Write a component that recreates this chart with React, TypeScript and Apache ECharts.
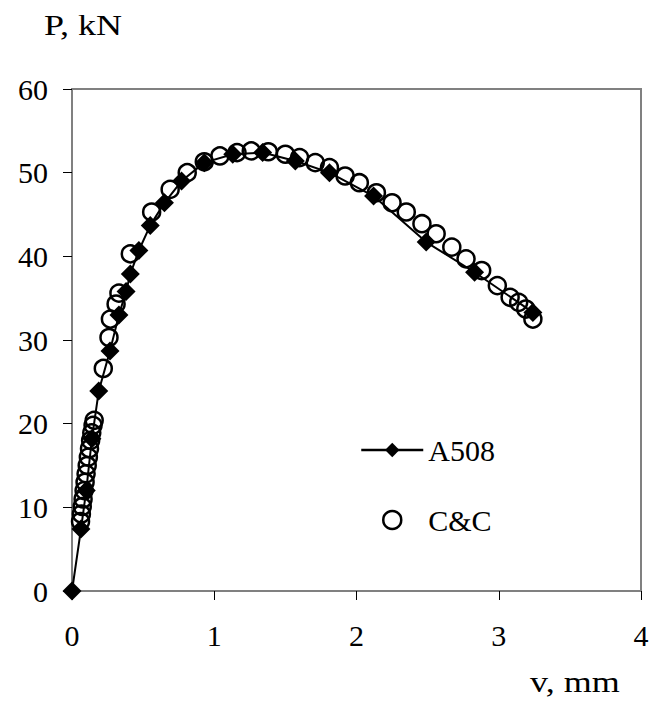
import React, { useEffect, useRef } from "react";
import * as echarts from "echarts";

const a508X = [0, 0.063, 0.1, 0.14, 0.188, 0.267, 0.33, 0.38, 0.41, 0.47, 0.55, 0.65, 0.77, 0.93, 1.13, 1.34, 1.57, 1.81, 2.12, 2.49, 2.83, 3.24];
const a508Y = [0, 7.4, 12, 18.2, 23.9, 28.7, 33.0, 35.8, 37.9, 40.7, 43.7, 46.4, 49.0, 51.2, 52.2, 52.4, 51.4, 50.0, 47.2, 41.7, 38.1, 33.3];

const ccX = [0.06, 0.066, 0.072, 0.078, 0.085, 0.092, 0.099, 0.107, 0.115, 0.123, 0.131, 0.139, 0.148, 0.156,
  0.22, 0.26, 0.27, 0.31, 0.33, 0.41, 0.56, 0.69, 0.81, 0.93, 1.04, 1.16, 1.26, 1.38, 1.5, 1.6, 1.71, 1.81, 1.92, 2.02,
  2.14, 2.25, 2.35, 2.46, 2.56, 2.67, 2.77, 2.88, 2.99, 3.08, 3.14, 3.19, 3.24];
const ccY = [8.3, 9.2, 10.1, 11.0, 12.0, 13.0, 14.0, 15.0, 16.0, 17.0, 18.0, 18.9, 19.8, 20.4,
  26.6, 30.3, 32.5, 34.3, 35.6, 40.3, 45.3, 48.0, 50.0, 51.3, 52.0, 52.4, 52.6, 52.5, 52.2, 51.8, 51.2, 50.6, 49.6, 48.8,
  47.6, 46.4, 45.3, 43.9, 42.7, 41.1, 39.7, 38.3, 36.5, 35.1, 34.5, 33.7, 32.5];

const xTicks = [0, 1, 2, 3, 4];
const yTicks = [0, 10, 20, 30, 40, 50, 60];

const FONT = "Liberation Serif";

export default function App() {
  const ref = useRef<HTMLDivElement>(null);
  useEffect(() => {
    if (!ref.current) return;
    const chart = echarts.init(ref.current, null, { renderer: "svg" });
    chart.setOption({
      animation: false,
      backgroundColor: "#fff",
      grid: { left: 72, top: 89, right: 12, bottom: 111, show: true, borderColor: "#808080", borderWidth: 2 },
      xAxis: {
        type: "value",
        min: xTicks[0],
        max: xTicks[xTicks.length - 1],
        interval: 1,
        axisLine: { show: true, lineStyle: { color: "#808080", width: 2 } },
        axisTick: { show: true, inside: false, length: 9, lineStyle: { color: "#000", width: 1 } },
        axisLabel: { margin: 29, color: "#000", fontFamily: FONT, fontSize: 30 },
        splitLine: { show: false },
      },
      yAxis: {
        type: "value",
        min: yTicks[0],
        max: yTicks[yTicks.length - 1],
        interval: 10,
        axisLine: { show: true, lineStyle: { color: "#808080", width: 2 } },
        axisTick: { show: true, inside: false, length: 9, lineStyle: { color: "#000", width: 1 } },
        axisLabel: { margin: 24, color: "#000", fontFamily: FONT, fontSize: 30 },
        splitLine: { show: false },
      },
      legend: {
        left: 360,
        top: 435,
        padding: 0,
        orient: "vertical",
        itemWidth: 62,
        itemHeight: 18,
        itemGap: 40,
        textStyle: { fontFamily: FONT, fontSize: 30, color: "#000" },
        data: [
          { name: "A508", lineStyle: { width: 2.5 } },
          { name: "C&C", icon: "circle", itemStyle: { color: "#fff", borderColor: "#000", borderWidth: 2.5 } },
        ],
      },
      series: [
        {
          name: "A508",
          type: "line",
          data: a508X.map((x, i) => [x, a508Y[i]]),
          symbol: "diamond",
          symbolSize: 19,
          showAllSymbol: true,
          lineStyle: { color: "#000", width: 2 },
          itemStyle: { color: "#000" },
          z: 2,
        },
        {
          name: "C&C",
          type: "scatter",
          data: ccX.map((x, i) => [x, ccY[i]]),
          symbol: "circle",
          symbolSize: 17,
          itemStyle: { color: "rgba(255,255,255,0)", borderColor: "#000", borderWidth: 2.5, opacity: 1 },
          z: 3,
        },
      ],
      graphic: [
        { type: "text", left: 44, top: 10, scaleX: 1.2, style: { text: "P, kN", fontFamily: FONT, fontSize: 30, fill: "#000" } },
        { type: "text", left: 530, top: 667, scaleX: 1.2, style: { text: "v, mm", fontFamily: FONT, fontSize: 30, fill: "#000" } },
      ],
    });
    return () => chart.dispose();
  }, []);
  return <div ref={ref} style={{ width: 653, height: 702, position: "absolute", left: 0, top: 0 }} />;
}
